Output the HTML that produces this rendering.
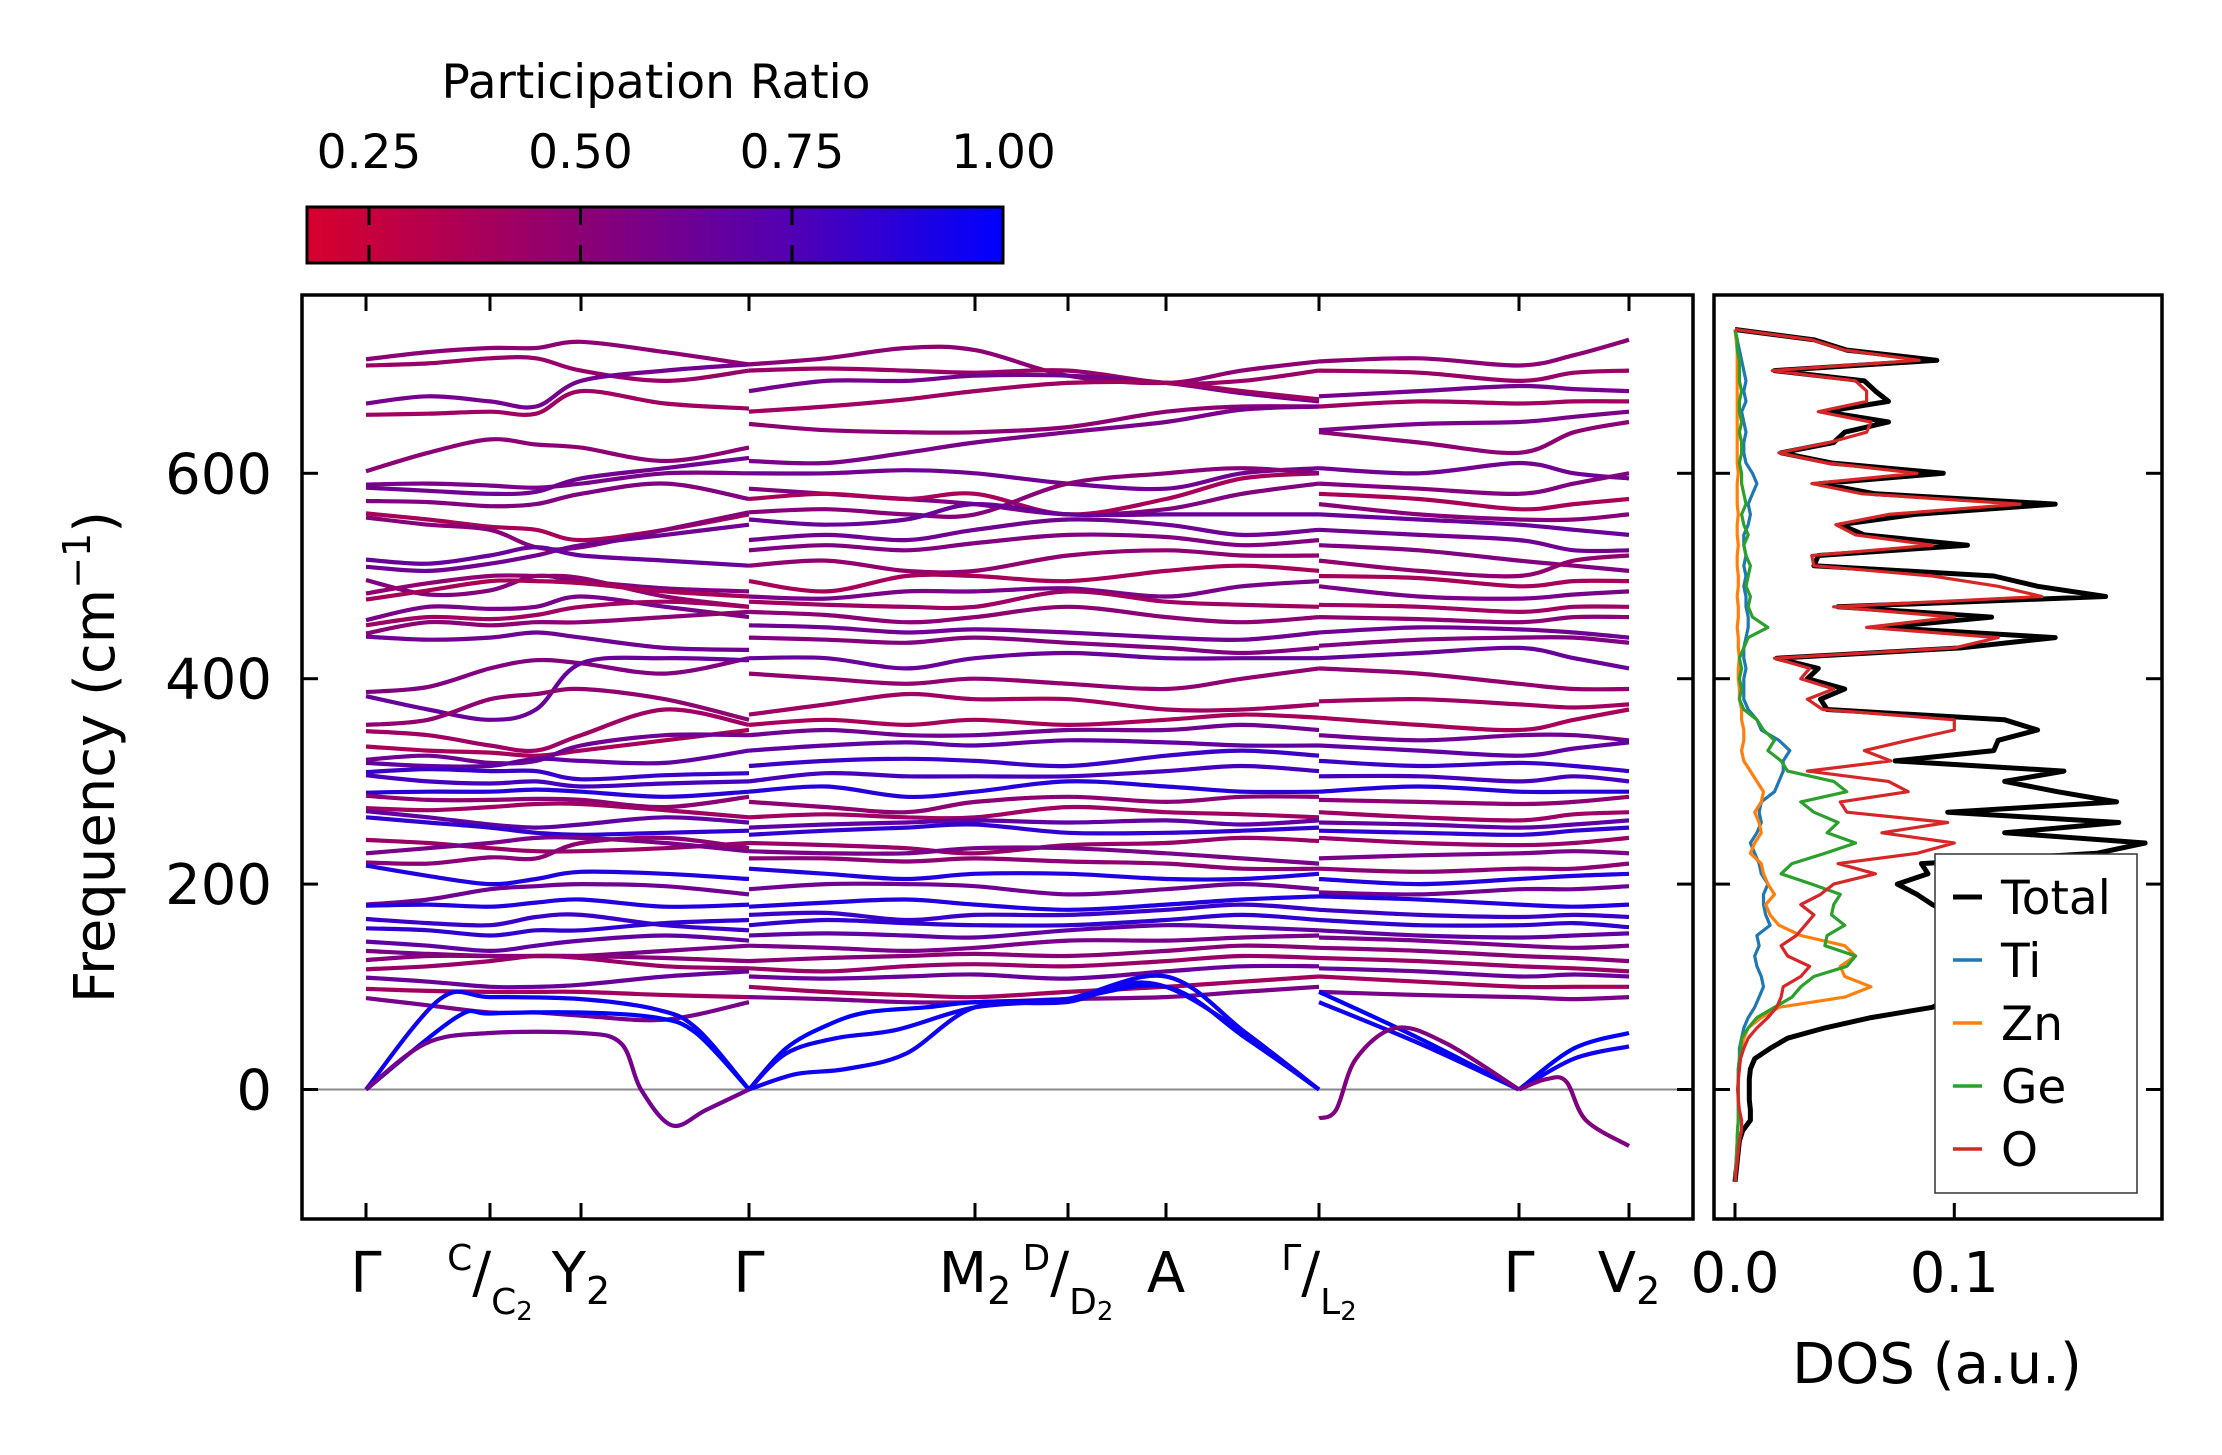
<!DOCTYPE html>
<html><head><meta charset="utf-8"><title>Phonon bands and DOS</title>
<style>
html,body{margin:0;padding:0;background:#fff;}
svg{display:block;font-family:"DejaVu Sans","Liberation Sans",sans-serif;}
</style></head>
<body>
<svg id="fig" width="2222" height="1455" viewBox="0 0 2222 1455" xmlns="http://www.w3.org/2000/svg">
<defs>
<linearGradient id="cbgrad" x1="0" y1="0" x2="1" y2="0">
<stop offset="0" stop-color="rgb(215,0,45)"/>
<stop offset="0.39" stop-color="rgb(140,0,115)"/>
<stop offset="0.70" stop-color="rgb(80,0,180)"/>
<stop offset="1" stop-color="rgb(0,0,255)"/>
</linearGradient>
<clipPath id="mainclip"><rect x="302" y="295" width="1391" height="924"/></clipPath>
<clipPath id="dosclip"><rect x="1714" y="295" width="448" height="924"/></clipPath>
</defs>
<g id="colorbar">
<text x="656" y="98" font-size="47" text-anchor="middle">Participation Ratio</text>
<rect x="307" y="207" width="696" height="56" fill="url(#cbgrad)" stroke="#000" stroke-width="3"/>
</g>
<g id="bands" clip-path="url(#mainclip)"></g>
<g id="dos" clip-path="url(#dosclip)"></g>
<g id="axes"></g>
</svg>
<script>
const NS="http://www.w3.org/2000/svg";
const cbTicks=[0.25,0.5,0.75,1.0];
const cbTickLabels=["0.25","0.50","0.75","1.00"];
const kTicks=[0,124,215,383,609,702,800,953,1153,1263];
const kLabels=["Γ","C|C2","Y2","Γ","M2","D|D2","A","Γ|L2","Γ","V2"];
const yTicks=[0,200,400,600];
const seg1K=[0,62,124,170,215,299,383];
const seg2K=[383,460,540,609,702,800,876,953];
const seg3K=[953,1053,1153,1208,1263];
const bands=[
[711,718,722,722,728,718,706,706,712,722,720,695,688,700,709,709,712,705,715,730],
[705,707,712,712,700,690,700,700,702,700,698,700,688,690,700,700,698,690,698,700],
[668,675,670,665,690,700,706,680,690,690,695,695,688,678,670,675,680,685,682,680],
[657,658,660,658,680,668,663,660,665,672,680,688,688,680,672,665,670,668,670,670],
[602,620,633,628,625,612,625,648,642,640,640,645,660,665,665,640,630,620,640,650],
[589,590,588,586,590,600,600,612,610,620,630,640,650,662,665,642,648,650,655,660],
[586,583,580,582,595,605,615,600,600,603,600,590,585,600,605,605,600,610,600,595],
[573,572,568,570,580,590,575,585,580,575,570,560,565,580,590,590,585,580,590,600],
[561,555,548,545,535,545,560,575,580,575,580,560,575,595,600,580,575,565,570,575],
[557,550,545,528,528,545,562,562,565,560,560,590,600,605,600,570,560,555,555,560],
[516,512,520,528,520,515,510,555,550,555,570,560,560,560,560,560,555,550,545,540],
[509,505,512,520,530,540,550,535,540,535,545,555,550,540,545,545,540,535,525,525],
[496,482,486,500,495,488,485,525,530,525,532,540,538,530,535,530,525,515,510,505],
[483,493,500,500,498,480,470,510,515,505,505,520,525,520,520,515,505,500,515,520],
[477,486,495,495,493,485,480,495,485,500,500,495,505,510,505,500,498,490,495,495],
[457,470,468,470,480,470,460,480,478,485,485,488,480,490,495,490,480,478,482,485],
[452,460,458,462,470,475,470,475,472,470,470,485,475,472,470,472,470,465,470,470],
[444,455,452,455,455,460,465,465,462,455,460,470,460,455,460,460,458,455,460,460],
[441,438,440,445,440,430,428,452,450,445,448,445,440,438,445,445,450,448,445,440],
[387,392,410,418,415,405,420,440,438,435,440,435,430,425,430,432,438,440,440,435],
[383,370,360,370,415,420,418,420,420,410,420,425,420,420,420,420,425,430,420,410],
[355,360,380,385,390,380,360,405,400,395,400,395,390,400,410,410,405,395,390,390],
[349,345,335,330,345,370,355,365,375,385,380,380,370,370,375,378,380,375,372,375],
[334,330,328,325,330,340,350,355,360,355,360,355,360,365,362,362,355,350,360,370],
[321,325,318,320,335,345,345,345,350,345,345,350,350,355,350,345,340,345,345,340],
[318,315,315,322,320,318,330,330,335,338,335,340,338,335,335,335,330,325,332,338],
[309,312,310,310,302,306,308,315,320,322,320,315,325,330,325,320,315,318,315,310],
[306,300,298,300,295,298,300,300,308,305,305,305,310,315,310,305,305,300,305,300],
[289,290,290,292,290,285,290,290,295,285,290,300,295,290,290,290,295,290,290,290],
[286,282,282,283,282,275,285,280,275,270,280,285,280,285,285,282,280,278,280,285],
[274,272,275,278,278,272,265,265,268,265,265,275,270,268,265,270,265,262,268,270],
[271,265,258,255,258,265,260,255,258,260,262,260,262,258,262,260,258,255,258,262],
[265,260,255,250,248,250,252,248,252,255,258,250,250,252,255,252,250,248,252,255],
[243,240,235,232,232,235,240,240,238,235,230,238,240,245,242,245,240,238,240,245],
[230,235,240,245,245,240,232,232,230,230,235,235,230,225,220,225,228,230,232,230],
[221,220,226,225,240,245,235,225,225,222,225,222,220,215,215,215,212,215,215,220],
[218,208,200,205,212,210,205,215,210,205,210,210,205,205,210,205,200,205,208,210],
[180,185,195,198,200,198,190,195,200,200,198,190,195,200,195,192,190,195,195,198],
[179,180,178,182,185,178,180,178,182,185,180,175,180,185,188,188,185,180,178,180],
[166,162,160,168,170,160,155,170,172,165,170,170,175,180,175,175,170,168,170,168],
[157,155,150,155,155,162,165,160,165,162,160,160,165,170,165,165,160,160,162,158],
[144,140,135,140,145,150,145,150,152,150,148,155,160,158,155,155,150,148,150,152],
[135,132,130,130,130,135,140,140,138,135,138,145,145,148,150,148,145,140,138,140],
[126,130,130,130,130,128,125,125,128,130,132,130,135,140,138,138,135,130,128,125],
[117,120,125,130,128,120,118,118,115,120,122,120,125,130,128,128,125,120,118,115],
[109,105,100,100,102,110,115,110,108,110,112,108,115,120,120,118,115,110,112,110],
[98,96,95,95,95,92,90,100,95,92,90,95,100,105,110,110,105,100,100,100],
[89,82,75,75,72,68,85,90,88,85,85,88,90,95,100,95,92,90,88,90]
];
const bandPR=[0.5,0.45,0.6,0.42,0.5,0.58,0.62,0.55,0.38,0.52,0.65,0.62,0.55,0.48,0.38,0.58,0.42,0.5,0.62,0.55,0.65,0.48,0.42,0.38,0.62,0.68,0.82,0.78,0.88,0.5,0.42,0.68,0.85,0.45,0.58,0.5,0.9,0.62,0.9,0.82,0.85,0.68,0.58,0.52,0.45,0.65,0.4,0.58];
const lowK=[
[0,74,124,215,290,330,383],
[0,90,124,215,290,330,383],
[0,60,124,215,255,275,306,340,383],
[383,420,460,500,560,609,700,800,880,953],
[383,420,470,530,609,700,800,880,953],
[383,430,480,540,609,700,800,953],
[953,1053,1153],
[953,1053,1153],
[953,970,990,1030,1080,1153],
[1153,1208,1263],
[1153,1208,1263],
[1153,1180,1200,1220,1263]
];
const lowV=[
[0,88,90,88,78,60,0],
[0,70,74,75,70,55,0],
[0,45,55,55,45,0,-35,-20,0],
[0,40,62,75,80,85,88,100,50,0],
[0,35,50,58,80,88,110,55,0],
[0,15,20,35,80,85,100,0],
[95,50,0],
[85,45,0],
[-28,-20,30,60,45,0],
[0,40,55],
[0,30,42],
[0,10,8,-30,-55]
];
const lowPR=[0.95,1.0,0.6,1.0,0.95,0.95,1.0,0.95,0.55,1.0,0.95,0.55];
const dosFreq=[-90,-80,-70,-60,-50,-40,-30,-20,-10,0,10,20,30,40,50,60,70,80,90,100,110,120,130,140,150,160,170,180,190,200,210,220,230,240,250,260,270,280,290,300,310,320,330,340,350,360,370,380,390,400,410,420,430,440,450,460,470,480,490,500,510,520,530,540,550,560,570,580,590,600,610,620,630,640,650,660,670,680,690,700,710,720,730,740];
const dosTotal=[0,0.0005,0.001,0.0015,0.002,0.0035,0.007,0.007,0.0065,0.0065,0.0065,0.007,0.009,0.016,0.024,0.041,0.062,0.09,0.1,0.11,0.12,0.13,0.125,0.12,0.115,0.12,0.1,0.09,0.083,0.074,0.088,0.085,0.165,0.187,0.123,0.175,0.097,0.174,0.147,0.123,0.15,0.073,0.118,0.12,0.138,0.123,0.042,0.039,0.05,0.033,0.038,0.019,0.103,0.146,0.067,0.117,0.047,0.169,0.138,0.118,0.036,0.038,0.106,0.059,0.048,0.082,0.146,0.064,0.039,0.095,0.044,0.021,0.045,0.05,0.07,0.041,0.07,0.064,0.059,0.018,0.092,0.051,0.036,0];
const dosTi=[0,0.0003,0.0005,0.0008,0.001,0.0012,0.0015,0.0015,0.0015,0.0015,0.0015,0.0015,0.002,0.002,0.003,0.004,0.006,0.009,0.011,0.013,0.012,0.01,0.009,0.011,0.01,0.016,0.014,0.013,0.013,0.015,0.012,0.011,0.009,0.007,0.01,0.012,0.011,0.012,0.018,0.02,0.022,0.022,0.025,0.02,0.012,0.01,0.006,0.004,0.004,0.004,0.005,0.004,0.004,0.005,0.006,0.006,0.005,0.005,0.004,0.005,0.004,0.005,0.004,0.004,0.006,0.007,0.006,0.008,0.01,0.008,0.005,0.004,0.004,0.005,0.004,0.003,0.005,0.004,0.005,0.004,0.003,0.002,0.001,0];
const dosZn=[0,0.0003,0.0005,0.0008,0.001,0.0012,0.0015,0.0015,0.0015,0.0015,0.0015,0.002,0.002,0.003,0.004,0.006,0.012,0.02,0.05,0.062,0.05,0.048,0.055,0.05,0.03,0.02,0.016,0.014,0.018,0.015,0.013,0.012,0.007,0.009,0.012,0.011,0.009,0.012,0.013,0.01,0.007,0.004,0.003,0.004,0.004,0.003,0.003,0.002,0.002,0.0015,0.0015,0.002,0.0015,0.0015,0.001,0.0015,0.0015,0.001,0.0015,0.0015,0.001,0.001,0.0015,0.001,0.001,0.0015,0.001,0.001,0.001,0.0015,0.001,0.001,0.001,0.001,0.001,0.001,0.001,0.001,0.001,0.001,0.001,0.001,0.0005,0];
const dosGe=[0,0.0003,0.0005,0.0008,0.001,0.0012,0.0015,0.0015,0.0015,0.0015,0.0015,0.0015,0.002,0.0025,0.003,0.006,0.01,0.018,0.026,0.03,0.036,0.051,0.055,0.041,0.042,0.05,0.044,0.045,0.048,0.035,0.021,0.026,0.041,0.055,0.042,0.047,0.036,0.03,0.051,0.045,0.024,0.021,0.015,0.018,0.013,0.01,0.004,0.002,0.003,0.002,0.003,0.002,0.004,0.006,0.015,0.008,0.006,0.007,0.005,0.006,0.007,0.005,0.004,0.006,0.004,0.003,0.005,0.004,0.003,0.003,0.002,0.003,0.003,0.002,0.003,0.002,0.002,0.003,0.002,0.002,0.002,0.001,0.001,0];
const dosO=[0,0.0005,0.001,0.0015,0.002,0.003,0.003,0.002,0.0015,0.0012,0.0015,0.002,0.0025,0.004,0.006,0.01,0.015,0.019,0.021,0.022,0.03,0.034,0.024,0.021,0.028,0.032,0.036,0.03,0.039,0.045,0.064,0.047,0.083,0.1,0.067,0.097,0.051,0.048,0.079,0.07,0.033,0.071,0.059,0.079,0.1,0.1,0.04,0.033,0.045,0.03,0.034,0.018,0.1,0.12,0.06,0.1,0.045,0.14,0.12,0.09,0.036,0.035,0.09,0.055,0.046,0.07,0.13,0.058,0.035,0.083,0.042,0.02,0.043,0.06,0.062,0.038,0.06,0.06,0.055,0.017,0.084,0.05,0.035,0];
const dosNames=["Total","Ti","Zn","Ge","O"];
const dosColors=["#000000","#1f77b4","#ff7f0e","#2ca02c","#d62728"];
const dosTicks=[0.0,0.1];
const dosTickLabels=["0.0","0.1"];

function xk(k){return 366+k*((1629-366)/1263);}
function yv(v){return 1089.5-v*1.027;}
function xd(d){return 1735+d*2193;}
function xcb(p){return 369+(p-0.25)*(211.5/0.25);}
function prColor(p){
  const stops=[[0.177,[215,0,45]],[0.5,[140,0,115]],[0.75,[80,0,180]],[1.0,[0,0,255]]];
  if(p<=stops[0][0])return "rgb(215,0,45)";
  for(let i=0;i<stops.length-1;i++){
    const a=stops[i],b=stops[i+1];
    if(p<=b[0]){const t=(p-a[0])/(b[0]-a[0]);
      const c=a[1].map((x,j)=>Math.round(x+(b[1][j]-x)*t));
      return "rgb("+c[0]+","+c[1]+","+c[2]+")";}
  }
  return "rgb(0,0,255)";
}
function smooth(pts){
  let d="M"+pts[0][0].toFixed(1)+","+pts[0][1].toFixed(1);
  const n=pts.length;
  for(let i=0;i<n-1;i++){
    const p0=pts[Math.max(i-1,0)],p1=pts[i],p2=pts[i+1],p3=pts[Math.min(i+2,n-1)];
    const c1=[p1[0]+(p2[0]-p0[0])/6,p1[1]+(p2[1]-p0[1])/6];
    const c2=[p2[0]-(p3[0]-p1[0])/6,p2[1]-(p3[1]-p1[1])/6];
    d+=" C"+c1[0].toFixed(1)+","+c1[1].toFixed(1)+" "+c2[0].toFixed(1)+","+c2[1].toFixed(1)+" "+p2[0].toFixed(1)+","+p2[1].toFixed(1);
  }
  return d;
}
function mk(tag,attrs,parent){const e=document.createElementNS(NS,tag);for(const k in attrs)e.setAttribute(k,attrs[k]);parent.appendChild(e);return e;}

const cbG=document.getElementById('colorbar');
cbTicks.forEach((p,i)=>{
  const x=xcb(p);
  if(p<1){
    const t1=mk('line',{x1:x,y1:207,x2:x,y2:225,stroke:'#000','stroke-width':3},cbG);
    
    
    const t2=mk('line',{x1:x,y1:245,x2:x,y2:263,stroke:'#000','stroke-width':3},cbG);
    
    
  }
  const lb=mk('text',{x:x,y:168,'font-size':47,'text-anchor':'middle'},cbG);
  lb.textContent=cbTickLabels[i];
  
  
});

const bG=document.getElementById('bands');
const zl=mk('line',{x1:302,y1:yv(0),x2:1693,y2:yv(0),stroke:'#888','stroke-width':2},bG);


const segs=[[seg1K,0],[seg2K,seg1K.length],[seg3K,seg1K.length+seg2K.length]];
bands.forEach((b,bi)=>{
  segs.forEach(([ks,off])=>{
    const pts=ks.map((k,j)=>[xk(k),yv(b[off+j])]);
    const p=mk('path',{d:smooth(pts),fill:'none',stroke:prColor(bandPR[bi]),'stroke-width':4.2},bG);
    
    
  });
});
lowK.forEach((ks,i)=>{
  const pts=ks.map((k,j)=>[xk(k),yv(lowV[i][j])]);
  const p=mk('path',{d:smooth(pts),fill:'none',stroke:prColor(lowPR[i]),'stroke-width':4.2},bG);
  
  
});

const dG=document.getElementById('dos');
const dosSeries=[dosTotal,dosTi,dosZn,dosGe,dosO];
dosSeries.forEach((s,i)=>{
  const pts=s.map((d,j)=>xd(d).toFixed(1)+","+yv(dosFreq[j]).toFixed(1)).join(' ');
  const pl=mk('polyline',{points:pts,fill:'none',stroke:dosColors[i],'stroke-width':i===0?5:3.2,'stroke-linejoin':'round'},dG);
  
  
});

const aG=document.getElementById('axes');
const f1=mk('rect',{x:302,y:295,width:1391,height:924,fill:'none',stroke:'#000','stroke-width':3.5},aG);


const f2=mk('rect',{x:1714,y:295,width:448,height:924,fill:'none',stroke:'#000','stroke-width':3.5},aG);


yTicks.forEach(v=>{
  const y=yv(v);
  [[302,318],[1677,1693],[1714,1730],[2146,2162]].forEach(([a,b])=>{
    const t=mk('line',{x1:a,y1:y,x2:b,y2:y,stroke:'#000','stroke-width':3},aG);
    
    
  });
  const l=mk('text',{x:272,y:y+20,'font-size':56,'text-anchor':'end'},aG);
  l.textContent=String(v);
  
  
});
kTicks.forEach((k,i)=>{
  const x=xk(k);
  const tb=mk('line',{x1:x,y1:1203,x2:x,y2:1219,stroke:'#000','stroke-width':3},aG);
  
  
  const tt=mk('line',{x1:x,y1:295,x2:x,y2:311,stroke:'#000','stroke-width':3},aG);
  
  
  const lab=kLabels[i];
  const t=mk('text',{x:x,y:1292,'font-size':56,'text-anchor':'middle'},aG);
  
  
  if(lab.includes('|')){
    const parts=lab.split('|');
    const s1=mk('tspan',{'font-size':36,dy:-22},t);s1.textContent=parts[0];
    const s2=mk('tspan',{'font-size':56,dy:22},t);s2.textContent='/';
    const s3=mk('tspan',{'font-size':36,dy:22},t);s3.textContent=parts[1].slice(0,-1);
    const s4=mk('tspan',{'font-size':26,dy:6},t);s4.textContent=parts[1].slice(-1);
  } else if(lab.length===2 && lab[1]==='2'){
    const s1=mk('tspan',{},t);s1.textContent=lab[0];
    const s2=mk('tspan',{'font-size':38,dy:12},t);s2.textContent='2';
  } else { t.textContent=lab; }
});
dosTicks.forEach((d,i)=>{
  const x=xd(d);
  const tk=mk('line',{x1:x,y1:1203,x2:x,y2:1219,stroke:'#000','stroke-width':3},aG);
  
  
  const l=mk('text',{x:x,y:1292,'font-size':56,'text-anchor':'middle'},aG);
  l.textContent=dosTickLabels[i];
  
  
});
const yl=mk('text',{x:0,y:0,'font-size':56,'text-anchor':'middle',transform:'translate(114,757) rotate(-90)'},aG);


const y1=mk('tspan',{},yl);y1.textContent='Frequency (cm';
const y2=mk('tspan',{'font-size':38,dy:-24},yl);y2.textContent='−1';
const y3=mk('tspan',{dy:24},yl);y3.textContent=')';
const xl=mk('text',{x:1937,y:1383,'font-size':56,'text-anchor':'middle'},aG);
xl.textContent='DOS (a.u.)';


const lg=mk('g',{},aG);


mk('rect',{x:1935,y:854,width:202,height:339,fill:'#fff',stroke:'#333','stroke-width':1.5},lg);
dosNames.forEach((n,i)=>{
  const y=897+i*63;
  const ln=mk('line',{x1:1953,y1:y,x2:1982,y2:y,stroke:dosColors[i],'stroke-width':i===0?5:3.5},lg);
  
  
  const t=mk('text',{x:2001,y:y+17,'font-size':47},lg);
  t.textContent=n;
  
  
});
</script>
</body></html>
